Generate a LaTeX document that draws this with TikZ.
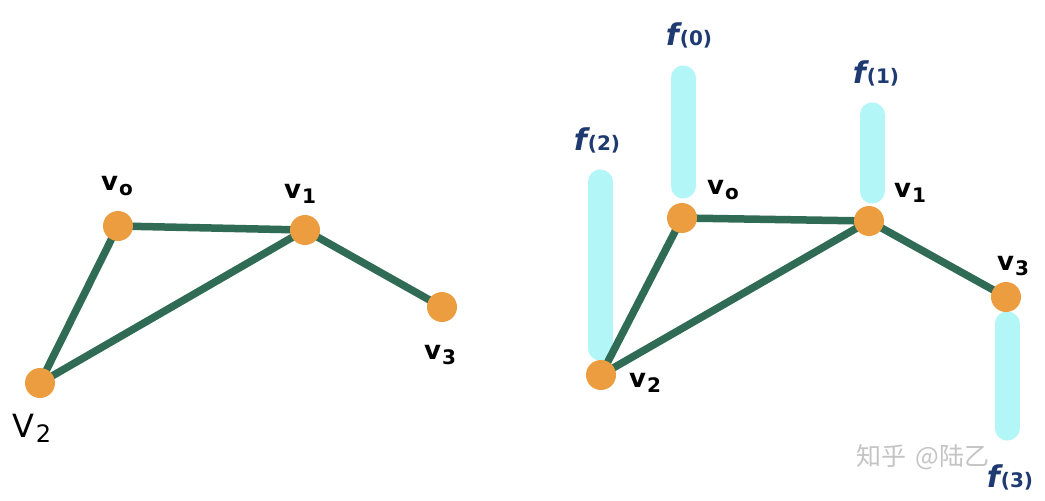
\documentclass[tikz,border=0pt]{standalone}
\usepackage{fontspec}
\setmainfont{DejaVu Sans}
\newfontfamily\cjk{Noto Sans CJK SC}
\definecolor{edgegreen}{HTML}{2F6B55}
\definecolor{vorange}{HTML}{EB9D3F}
\definecolor{barcyan}{HTML}{B2F6F8}
\definecolor{fblue}{HTML}{1E3A70}
\definecolor{wmgray}{HTML}{C4C4C4}
\newcommand{\vsub}[2]{#1\kern1pt\raisebox{-5pt}{\fontsize{20}{20}\selectfont #2}}
\newcommand{\fcall}[1]{{\fontsize{30}{30}\selectfont\itshape f}\kern1pt(#1)}
\begin{document}
\begin{tikzpicture}[x=1pt,y=-1pt,
  vtx/.style={circle,fill=vorange,inner sep=0pt,minimum size=30pt},
  edge/.style={draw=edgegreen,line width=7.5pt},
  bar/.style={draw=barcyan,line width=25pt,line cap=round},
  vlab/.style={font=\bfseries\fontsize{26}{26}\selectfont,text=black,inner sep=0pt},
  flab/.style={font=\bfseries\fontsize{20}{20}\selectfont,text=fblue,inner sep=0pt}]
\useasboundingbox[fill=white] (0,0) rectangle (1045,501);
% left graph
\coordinate (p0) at (118,226);
\coordinate (p1) at (305,230);
\coordinate (p2) at (40,383);
\coordinate (p3) at (442,307);
\draw[edge] (p0) -- (p1);
\draw[edge] (p0) -- (p2);
\draw[edge] (p1) -- (p2);
\draw[edge] (p1) -- (p3);
\node[vtx] (a0) at (p0) {};
\node[vtx] (a1) at (p1) {};
\node[vtx] (a2) at (p2) {};
\node[vtx] (a3) at (p3) {};
\node[vlab] (la0) at (117,186) {\vsub{v}{o}};
\node[vlab] (la1) at (300,194) {\vsub{v}{1}};
\node[vlab] (la3) at (440,355) {\vsub{v}{3}};
\node[vlab,font=\fontsize{32}{32}\selectfont] (la2) at (32,428) {\vsub{V}{\fontsize{24}{24}\selectfont 2}};
% right graph bars
\coordinate (b0t) at (683,78);
\coordinate (b0b) at (683,186);
\coordinate (b1t) at (872,115);
\coordinate (b1b) at (872,191);
\coordinate (b2t) at (600,182);
\coordinate (b2b) at (600,348);
\coordinate (b3t) at (1007,324);
\coordinate (b3b) at (1007,428);
\draw[bar] (b0t) -- (b0b);
\draw[bar] (b1t) -- (b1b);
\draw[bar] (b2t) -- (b2b);
\draw[bar] (b3t) -- (b3b);
% right graph
\coordinate (c0) at (682,218);
\coordinate (c1) at (869,221);
\coordinate (c2) at (601,375);
\coordinate (c3) at (1006,297);
\draw[edge] (c0) -- (c1);
\draw[edge] (c0) -- (c2);
\draw[edge] (c1) -- (c2);
\draw[edge] (c1) -- (c3);
\node[vtx] (r0) at (c0) {};
\node[vtx] (r1) at (c1) {};
\node[vtx] (r2) at (c2) {};
\node[vtx] (r3) at (c3) {};
\node[vlab] (lr0) at (723,190) {\vsub{v}{o}};
\node[vlab] (lr1) at (910,193) {\vsub{v}{1}};
\node[vlab] (lr3) at (1013,266) {\vsub{v}{3}};
\node[vlab] (lr2) at (645,383) {\vsub{v}{2}};
% watermark
\node[text=wmgray,font=\cjk\fontsize{25}{25}\selectfont,anchor=west,inner sep=0pt] (wm) at (856,457) {知乎 \,@陆乙};
% f labels
\node[flab] (f0) at (689,35) {\fcall{0}};
\node[flab] (f1) at (876,73) {\fcall{1}};
\node[flab] (f2) at (597,140) {\fcall{2}};
\node[flab] (f3) at (1010,477) {\fcall{3}};
\end{tikzpicture}
\end{document}
